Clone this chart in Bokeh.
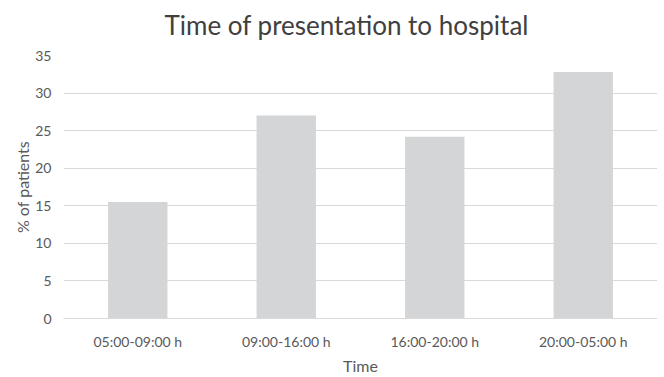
from bokeh.plotting import figure
from bokeh.models import Range1d, FixedTicker, Div
from bokeh.layouts import column
from bokeh.embed import file_html
from bokeh.resources import INLINE

categories = ["05:00-09:00 h", "09:00-16:00 h", "16:00-20:00 h", "20:00-05:00 h"]
percent_patients = [15.5, 27.0, 24.2, 32.8]
y_ticks = [0, 5, 10, 15, 20, 25, 30, 35]
title_text = "Time of presentation to hospital"

FONT = "Lato"
TXT = "#595959"
FW, FH = 594, 263

title = Div(text=title_text, width=657, height=40,
            styles={"text-align": "center", "font-family": FONT, "font-size": "26px",
                    "color": "#404040", "line-height": "50px", "margin": "0",
                    "padding": "0", "width": "657px", "text-indent": "36px"})

p = figure(x_range=categories, frame_width=FW, frame_height=FH, output_backend="svg",
           toolbar_location=None,
           min_border_left=63, min_border_right=0, min_border_top=15, min_border_bottom=48)
p.y_range = Range1d(0, 35)
p.x_range.range_padding = 0

p.vbar(x=categories, top=percent_patients, width=0.4, color="#d4d5d7", line_color=None)

p.outline_line_color = None
p.xgrid.grid_line_color = None
p.ygrid.grid_line_color = "#d9d9d9"
p.ygrid.grid_line_width = 1

p.yaxis.ticker = FixedTicker(ticks=y_ticks)
for ax in (p.xaxis[0], p.yaxis[0]):
    ax.major_tick_line_color = None
    ax.minor_tick_line_color = None
    ax.major_label_text_font = FONT
    ax.major_label_text_font_size = "14px"
    ax.major_label_text_color = TXT
    ax.axis_label_text_font = FONT
    ax.axis_label_text_font_size = "16px"
    ax.axis_label_text_font_style = "normal"
    ax.axis_label_text_color = TXT
p.yaxis.axis_line_color = None
p.xaxis.axis_line_color = "#d9d9d9"
p.xaxis.axis_label = "Time"
p.yaxis.axis_label = "% of patients"
p.xaxis.major_label_standoff = 8
p.yaxis.major_label_standoff = 6
p.xaxis.axis_label_standoff = 3
p.yaxis.axis_label_standoff = 0

layout = column(title, p, spacing=0)
open("out.html", "w").write(file_html(layout, INLINE))
